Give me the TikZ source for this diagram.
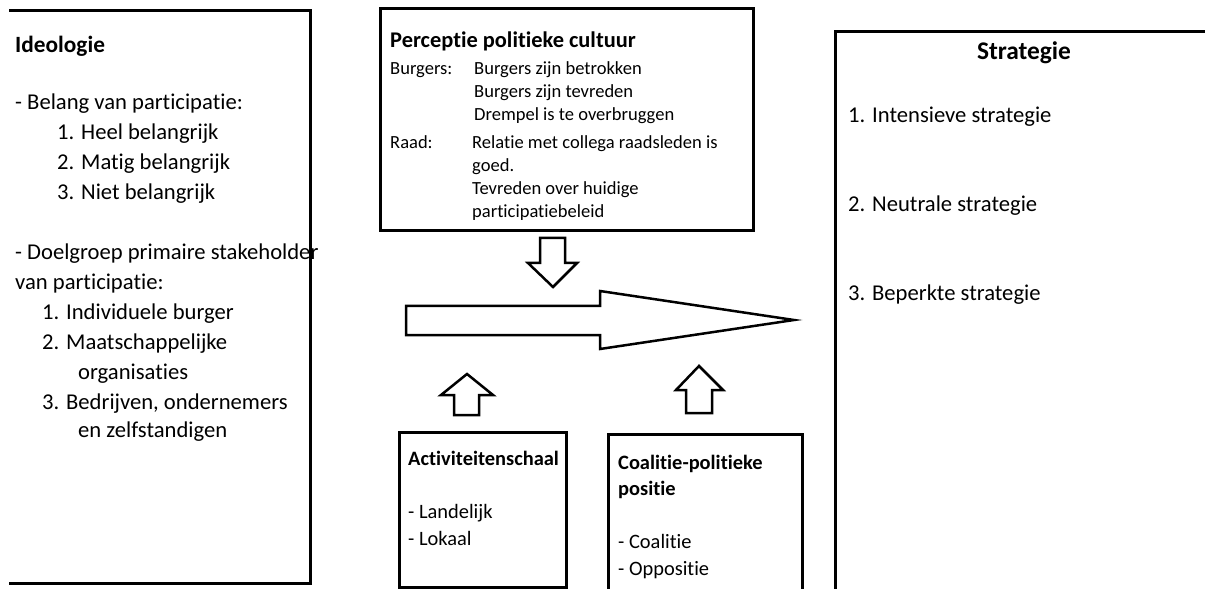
\documentclass[tikz,border=0pt]{standalone}
\usepackage{fontspec}
\setmainfont{Carlito}[Ligatures={NoCommon}]
\begin{document}
\begin{tikzpicture}[x=1bp,y=-1bp,
  box/.style={line width=3bp,line join=miter},
  blockarrow/.style={line width=2.5bp,line join=miter,fill=white},
  txt/.style={anchor=mid west,inner sep=0pt,yshift=-2bp,font=\fontsize{22.7}{26}\selectfont},
  btxt/.style={txt,font=\fontsize{23.4}{26}\selectfont\bfseries},
  stxt/.style={anchor=mid west,inner sep=0pt,font=\fontsize{18.6}{22}\selectfont},
  sbtxt/.style={stxt,font=\fontsize{22.5}{26}\selectfont\bfseries},
  mtxt/.style={anchor=mid west,inner sep=0pt,font=\fontsize{20.5}{24}\selectfont},
  mbtxt/.style={mtxt,font=\fontsize{20.5}{24}\selectfont\bfseries}]
\useasboundingbox (0,0) rectangle (1205,589);
% boxes
\draw[box] (9,11) -- (310,11) -- (310,583) -- (9,583);
\draw[box] (380,9) rectangle (753,231);
\draw[box] (1210,32) -- (835,32) -- (835,595);
\draw[box] (399,587) -- (399,432) -- (566,432) -- (566,587) -- cycle;
\draw[box] (608,595) -- (608,434) -- (802,434) -- (802,595);
% arrows
\draw[blockarrow] (540,238) -- (565,238) -- (565,263) -- (577,263) -- (553,287) -- (528,263) -- (540,263) -- cycle;
\draw[blockarrow] (406,306) -- (600,306) -- (600,291) -- (794,320) -- (600,349) -- (600,335) -- (406,335) -- cycle;
\draw[blockarrow] (454,415) -- (454,395) -- (441,395) -- (467,374) -- (493,395) -- (479,395) -- (479,415) -- cycle;
\draw[blockarrow] (686,413) -- (686,390) -- (676,390) -- (699,366) -- (723,390) -- (712,390) -- (712,413) -- cycle;
% left text
\node[btxt] (ideo) at (15,48) {Ideologie};
\node[txt] (l1) at (15,105) {- Belang van participatie:};
\node[txt] (l2) at (57,135) {1. Heel belangrijk};
\node[txt] (l3) at (57,165) {2. Matig belangrijk};
\node[txt] (l4) at (57,195) {3. Niet belangrijk};
\node[txt] (l5) at (15,255) {- Doelgroep primaire stakeholder};
\node[txt] (l6) at (15,285) {van participatie:};
\node[txt] (l7) at (42,315) {1. Individuele burger};
\node[txt] (l8) at (42,345) {2. Maatschappelijke};
\node[txt] (l9) at (78,375) {organisaties};
\node[txt] (l10) at (42,405) {3. Bedrijven, ondernemers};
\node[txt] (l11) at (78,433) {en zelfstandigen};
% perceptie
\node[sbtxt] (perc) at (390,45) {Perceptie politieke cultuur};
\node[stxt] (bur) at (390,72) {Burgers:};
\node[stxt] (b1) at (474,72) {Burgers zijn betrokken};
\node[stxt] (b2) at (474,95) {Burgers zijn tevreden};
\node[stxt] (b3) at (474,118) {Drempel is te overbruggen};
\node[stxt] (raad) at (390,146) {Raad:};
\node[stxt] (r1) at (472,146) {Relatie met collega raadsleden is};
\node[stxt] (r2) at (472,169) {goed.};
\node[stxt] (r3) at (472,192) {Tevreden over huidige};
\node[stxt] (r4) at (472,215) {participatiebeleid};
% strategie
\node[txt,anchor=mid,font=\fontsize{25.5}{28}\selectfont\bfseries] (strat) at (1024,55) {Strategie};
\node[txt] (s1) at (848,118) {1. Intensieve strategie};
\node[txt] (s2) at (848,207) {2. Neutrale strategie};
\node[txt] (s3) at (848,296) {3. Beperkte strategie};
% activiteiten
\node[mbtxt] (act) at (408,463) {Activiteitenschaal};
\node[mtxt] (a1) at (408,516) {- Landelijk};
\node[mtxt] (a2) at (408,543) {- Lokaal};
% coalitie
\node[mbtxt] (coal) at (618,467) {Coalitie-politieke};
\node[mbtxt] (coal2) at (618,493) {positie};
\node[mtxt] (c1) at (618,546) {- Coalitie};
\node[mtxt] (c2) at (618,573) {- Oppositie};
\end{tikzpicture}
\end{document}
